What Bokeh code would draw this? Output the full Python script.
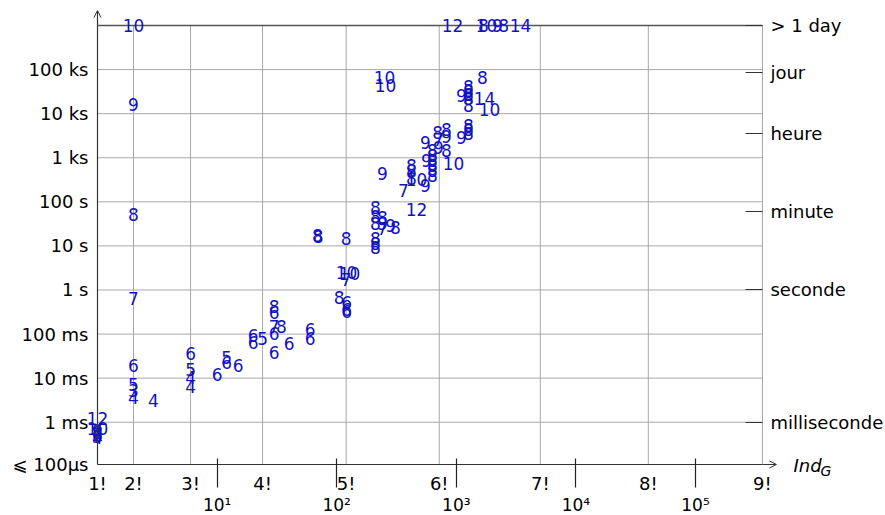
import math
from bokeh.plotting import figure
from bokeh.models import (ColumnDataSource, Label, FixedTicker, LogAxis, LogScale,
                          Arrow, OpenHead, Range1d)
from bokeh.core.properties import value
from bokeh.embed import file_html
from bokeh.resources import INLINE

# ---------------- data ----------------
TIMEOUT = 1e6      # runs longer than a day are drawn on the top line
FLOOR = 1.1e-4     # "<= 100 us" floor of the time axis

labels = ["12", "10", "9", "8", "7", "6", "5", "4",
          "10", "9", "8", "7", "6", "5", "3", "4", "4",
          "6", "5", "4", "4", "6", "5", "6", "6",
          "6", "6", "5", "6", "7", "8", "6", "6", "8", "6", "6", "6",
          "8", "8", "8", "10", "10", "7", "8", "6", "6", "6",
          "8", "8", "8", "8", "8", "8", "8", "9", "7", "9", "8", "12",
          "10", "10", "9", "7", "8", "8", "8", "10",
          "9", "9", "9", "8", "8", "8", "8", "8", "8",
          "8", "7", "9", "8", "9", "8", "10", "9", "8", "8", "8",
          "8", "8", "8", "8", "8", "9", "14", "8", "10",
          "12", "8", "10", "9", "8", "14"]

ind_g = [1, 1, 1, 1, 1, 1, 1, 1,
         2, 2, 2, 2, 2, 2, 2, 2, 2.94,
         6, 6, 6, 6, 10, 12, 12, 15,
         20, 20, 24, 30, 30, 34.5, 30, 40, 30, 30, 60, 60,
         69, 70, 120, 121, 128, 120, 105, 121, 121, 121,
         211, 211, 211, 211, 211, 211, 241, 241, 241, 282, 310, 465,
         251, 256, 241, 362, 422, 422, 422, 465,
         553, 563, 553, 632, 632, 632, 632, 632, 632,
         697, 710, 710, 828, 828, 828, 948, 1105, 1264, 1264, 1264,
         1656, 1264, 1264, 1264, 1264, 1105, 1722, 1264, 1895,
         929, 1688, 1789, 2210, 2483, 3443]

time_s = [0.00121, 0.00072, 0.00065, 0.00058, 0.00053, 0.00050, 0.00047, 0.00045,
          TIMEOUT, 16100, 51.5, 0.641, 0.0194, 0.00718, 0.00525, 0.00364, 0.00311,
          0.0362, 0.0157, 0.0104, 0.00646, 0.0121, 0.0294, 0.0226, 0.0194,
          0.0927, 0.0643, 0.0793, 0.103, 0.148, 0.148, 0.0382, 0.0611, 0.42, 0.308, 0.127, 0.0793,
          17.2, 16.3, 14.7, 2.49, 2.37, 1.73, 0.675, 0.52, 0.36, 0.325,
          74, 46.5, 32, 14.7, 11.3, 9.2, 44, 32, 24.8, 29, 26, 67,
          66000, 43500, 439, 181, 667, 513, 338, 321,
          2220, 865, 234, 1460, 1120, 865, 667, 513, 395,
          3740, 2590, 1710, 4370, 3030, 1460, 740, 2880, 5380, 4370, 3550,
          66000, 41300, 33500, 27200, 22100, 25800, 22100, 15300, 12400,
          TIMEOUT, TIMEOUT, TIMEOUT, TIMEOUT, TIMEOUT, TIMEOUT]

fact_ticks = [math.factorial(n) for n in range(1, 10)]
fact_labels = ["1!", "2!", "3!", "4!", "5!", "6!", "7!", "8!", "9!"]
pow_ticks = [10, 100, 1000, 10000, 100000]
pow_labels = ["10\u00b9", "10\u00b2", "10\u00b3", "10\u2074", "10\u2075"]
time_ticks = [FLOOR, 1e-3, 1e-2, 1e-1, 1, 10, 100, 1e3, 1e4, 1e5]
time_labels = ["\u2a7d 100\u03bcs", "1 ms", "10 ms", "100 ms", "1 s", "10 s",
               "100 s", "1 ks", "10 ks", "100 ks"]
unit_ticks = [1e-3, 1, 60, 3600, 86400, TIMEOUT]
unit_labels = ["milliseconde", "seconde", "minute", "heure", "jour", "> 1 day"]

# ---------------- layout (pixels) ----------------
W, H = 885, 515
X0_PX, XS = 97, 119.6        # x = 1 at 97 px, px per decade
YT_PX, YS = 25, 44.08        # y = TIMEOUT at 25 px, px per decade

x_lo = fact_ticks[0] * 10 ** (-X0_PX / XS)
x_hi = fact_ticks[0] * 10 ** ((W - X0_PX) / XS)
y_hi = TIMEOUT * 10 ** (YT_PX / YS)
y_lo = TIMEOUT * 10 ** (-(H - YT_PX) / YS)

FONT = "DejaVu Sans"
BLUE = "#1212c0"
GRID = "#a8a8a8"
AXC = "#333333"

p = figure(width=W, height=H, x_axis_location=None, y_axis_location=None,
           x_axis_type="log", y_axis_type="log",
           x_range=Range1d(x_lo, x_hi), y_range=Range1d(y_lo, y_hi),
           output_backend="svg", toolbar_location=None, min_border=0)
p.x_scale = LogScale()
p.y_scale = LogScale()
p.outline_line_color = None
p.background_fill_color = "white"
p.border_fill_color = "white"
for g in p.grid:
    g.visible = False

X_MIN, X_MAX = fact_ticks[0], fact_ticks[-1]

# grid lines from the tick lists
p.segment(x0=fact_ticks[1:], x1=fact_ticks[1:], y0=[FLOOR] * 8, y1=[TIMEOUT] * 8,
          line_color=GRID, line_width=1)
p.segment(x0=[X_MIN] * 9, x1=[X_MAX] * 9, y0=time_ticks[1:], y1=time_ticks[1:],
          line_color=GRID, line_width=1)
# top line (> 1 day)
p.segment(x0=[X_MIN], x1=[X_MAX], y0=[TIMEOUT], y1=[TIMEOUT], line_color="#555555", line_width=1.4)


def style(ax, size):
    ax.minor_tick_line_color = None
    ax.major_label_text_font = FONT
    ax.major_label_text_font_size = size
    ax.major_label_text_color = "black"


# bottom axis 1: factorials
ax1 = LogAxis(ticker=FixedTicker(ticks=fact_ticks),
              major_label_overrides=dict(zip(fact_ticks, fact_labels)),
              fixed_location=FLOOR, bounds=(X_MIN, X_MAX),
              axis_line_color=AXC, axis_line_width=1.2,
              major_tick_in=0, major_tick_out=0, major_label_standoff=9)
style(ax1, "18px")
p.add_layout(ax1, "below")

# bottom axis 2: powers of ten
ax2 = LogAxis(ticker=FixedTicker(ticks=pow_ticks),
              major_label_overrides=dict(zip(pow_ticks, pow_labels)),
              fixed_location=FLOOR, bounds=(X_MIN, X_MAX),
              axis_line_color=None, major_tick_in=6, major_tick_out=23,
              major_tick_line_color="#222222", major_tick_line_width=1.2,
              major_label_standoff=8)
style(ax2, "17px")
p.add_layout(ax2, "below")

# left axis: time
ay = LogAxis(ticker=FixedTicker(ticks=time_ticks),
             major_label_overrides=dict(zip(time_ticks, time_labels)),
             fixed_location=X_MIN, bounds=(FLOOR, TIMEOUT),
             axis_line_color=AXC, axis_line_width=1.2,
             major_tick_in=0, major_tick_out=0, major_label_standoff=9)
style(ay, "18px")
p.add_layout(ay, "left")

# right axis: time units
ar = LogAxis(ticker=FixedTicker(ticks=unit_ticks),
             major_label_overrides=dict(zip(unit_ticks, unit_labels)),
             fixed_location=X_MAX, bounds=(FLOOR, TIMEOUT),
             axis_line_color=GRID, axis_line_width=1,
             major_tick_in=17, major_tick_out=0,
             major_tick_line_color=AXC, major_label_standoff=8)
style(ar, "18px")
p.add_layout(ar, "right")

# axis arrows
p.add_layout(Arrow(end=OpenHead(size=7, line_width=1, line_color=AXC),
                   x_start=X_MIN, y_start=TIMEOUT,
                   x_end=X_MIN, y_end=TIMEOUT * 10 ** (15 / YS),
                   line_color=AXC, line_width=1.2))
p.add_layout(Arrow(end=OpenHead(size=7, line_width=1, line_color=AXC),
                   x_start=X_MAX, y_start=FLOOR,
                   x_end=X_MAX * 10 ** (14 / XS), y_end=FLOOR,
                   line_color=AXC, line_width=1.2))

# axis name Ind_G
p.add_layout(Label(x=X_MAX, y=FLOOR, x_offset=31, y_offset=-1, text="Ind",
                   text_font=FONT, text_font_style="italic", text_font_size="18px",
                   text_baseline="middle", text_align="left", text_color="black"))
p.add_layout(Label(x=X_MAX, y=FLOOR, x_offset=58, y_offset=-7, text="G",
                   text_font=FONT, text_font_style="italic", text_font_size="14px",
                   text_baseline="middle", text_align="left", text_color="black"))

# data labels
src = ColumnDataSource(dict(x=ind_g, y=time_s, text=labels))
p.text(x="x", y="y", text="text", source=src,
       text_align="center", text_baseline="middle",
       text_color=BLUE, text_font=value(FONT), text_font_size="17px")

open("out.html", "w").write(file_html(p, INLINE))
